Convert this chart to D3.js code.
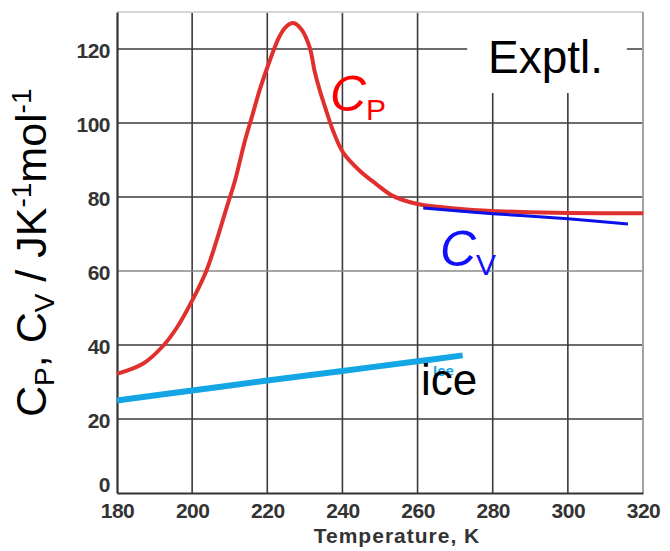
<!DOCTYPE html>
<html>
<head>
<meta charset="utf-8">
<script src="https://cdn.jsdelivr.net/npm/d3@7"></script>
<style>
  body { margin: 0; background: #fff; }
  svg { display: block; }
</style>
</head>
<body>
<div id="chart"></div>
<script>
// data
const xTicks = [180, 200, 220, 240, 260, 280, 300, 320];
const yTicks = [0, 20, 40, 60, 80, 100, 120];

const cpTemp = [180, 187, 192.3, 196, 200, 203.8, 206.5, 209.2, 211.4, 214, 216, 218, 220, 222, 223.3, 225, 226.9, 229.1, 231.3, 232.6, 234, 235.7, 237.5, 240.2, 244.6, 249, 253.4, 260, 270, 280, 290, 300, 320];
const cpVal  = [32.2, 35, 39.8, 44.8, 52, 60.1, 68.2, 77.2, 84.4, 95, 102, 109, 115, 120.5, 123.5, 126, 127, 125.3, 120.4, 114, 108.7, 103.3, 97.9, 92, 87.1, 83.5, 80.3, 78.1, 76.9, 76.2, 75.9, 75.7, 75.6];

const cvTemp = [261.5, 280, 300, 316];
const cvVal  = [77, 75.5, 74.1, 72.7];

const iceTemp = [180, 200, 220, 240, 260, 272];
const iceVal  = [25, 27.7, 30.4, 33, 35.6, 37.2];

const W = 670, H = 551;
const margin = {left: 117, right: 27, top: 12, bottom: 58};
const width = W - margin.left - margin.right;
const height = H - margin.top - margin.bottom;

const svg = d3.select("#chart")
    .append("svg")
    .attr("width", W)
    .attr("height", H)
    .style("font-family", "Arial, 'Liberation Sans', sans-serif");

const g = svg.append("g")
    .attr("transform", "translate(" + margin.left + "," + margin.top + ")");

const x = d3.scaleLinear().domain([180, 320]).range([0, width]);
const y = d3.scaleLinear().domain([0, 130]).range([height, 0]);

// grid
g.append("g")
    .selectAll("line")
    .data(xTicks.slice(1, -1))
    .enter().append("line")
    .attr("x1", d => x(d)).attr("x2", d => x(d))
    .attr("y1", 0).attr("y2", height)
    .attr("stroke", "#3a3a3a")
    .attr("stroke-width", 1.6);

g.append("g")
    .selectAll("line")
    .data(yTicks.slice(1))
    .enter().append("line")
    .attr("x1", 0).attr("x2", width)
    .attr("y1", d => y(d)).attr("y2", d => y(d))
    .attr("stroke", d => d == 60 ? "#8a8a8a" : "#3a3a3a")
    .attr("stroke-width", 1.6);

// frame
g.append("line")
    .attr("x1", 0).attr("x2", width).attr("y1", 0).attr("y2", 0)
    .attr("stroke", "#d6d6d6").attr("stroke-width", 2);
g.append("line")
    .attr("x1", width).attr("x2", width).attr("y1", 0).attr("y2", height)
    .attr("stroke", "#a89f9f").attr("stroke-width", 2);

// axes
const xAxis = g.append("g")
    .attr("transform", "translate(0," + height + ")")
    .call(d3.axisBottom(x).tickValues(xTicks).tickSize(0).tickPadding(8));
const yAxis = g.append("g")
    .call(d3.axisLeft(y).tickValues(yTicks).tickSize(0).tickPadding(7));

[xAxis, yAxis].forEach(a => {
    a.select(".domain").attr("stroke", "#333").attr("stroke-width", 2.2);
    a.selectAll("text")
        .attr("fill", "#333")
        .style("font-size", "21px")
        .style("font-weight", "bold")
        .style("letter-spacing", "-0.5px")
        .style("font-family", "Arial, 'Liberation Sans', sans-serif");
});
xAxis.selectAll("text").attr("dy", "0.8em");
yAxis.selectAll("text").attr("dy", d => d == 0 ? "-0.05em" : "0.4em");

// white box behind "Exptl."
g.append("rect")
    .attr("x", x(273.2)).attr("y", 1)
    .attr("width", x(315.7) - x(273.2)).attr("height", y(108.1) - 1)
    .attr("fill", "#fff");

// curves
const line = d3.line()
    .x(d => x(d[0]))
    .y(d => y(d[1]))
    .curve(d3.curveCatmullRom.alpha(0.5));

g.append("path")
    .attr("d", line(d3.zip(iceTemp, iceVal)))
    .attr("fill", "none")
    .attr("stroke", "#14a6e4")
    .attr("stroke-width", 6);

g.append("path")
    .attr("d", line(d3.zip(cpTemp, cpVal)))
    .attr("fill", "none")
    .attr("stroke", "#e0302e")
    .attr("stroke-width", 4)
    .attr("stroke-linejoin", "round");

g.append("path")
    .attr("d", line(d3.zip(cvTemp, cvVal)))
    .attr("fill", "none")
    .attr("stroke", "#0a10e8")
    .attr("stroke-width", 3);

// labels inside the plot
svg.append("text")
    .attr("x", 488).attr("y", 72.5)
    .style("font-size", "46px")
    .attr("fill", "#000")
    .text("Exptl.");

const cpLab = svg.append("text")
    .attr("x", 330).attr("y", 111)
    .attr("fill", "#ff0000")
    .style("font-size", "50px");
cpLab.append("tspan").style("font-style", "italic").text("C");
cpLab.append("tspan").attr("dy", 9).style("font-size", "30px").text("P");

const cvLab = svg.append("text")
    .attr("x", 440).attr("y", 266)
    .attr("fill", "#1010ff")
    .style("font-size", "50px");
cvLab.append("tspan").style("font-style", "italic").text("C");
cvLab.append("tspan").attr("dy", 9).style("font-size", "30px").text("V");

svg.append("text")
    .attr("x", 433).attr("y", 376)
    .attr("fill", "#1ea7e1")
    .style("font-size", "15px")
    .style("font-weight", "bold")
    .text("Ice");

svg.append("text")
    .attr("x", 421).attr("y", 395)
    .attr("fill", "#000")
    .style("font-size", "44px")
    .text("ice");

// axis titles
svg.append("text")
    .attr("x", 397).attr("y", 543)
    .attr("text-anchor", "middle")
    .attr("fill", "#333")
    .style("font-size", "21px")
    .style("font-weight", "bold")
    .style("letter-spacing", "1px")
    .text("Temperature, K");

const yLab = svg.append("text")
    .attr("transform", "translate(46,417) rotate(-90)")
    .attr("fill", "#000")
    .style("font-size", "43px");
yLab.append("tspan").text("C");
yLab.append("tspan").attr("dy", 8).style("font-size", "28px").text("P");
yLab.append("tspan").attr("dy", -8).text(",  C");
yLab.append("tspan").attr("dy", 8).style("font-size", "28px").text("V");
yLab.append("tspan").attr("dy", -8).text(" / JK");
yLab.append("tspan").attr("dy", -15).style("font-size", "28px").text("-1");
yLab.append("tspan").attr("dy", 15).text("mol");
yLab.append("tspan").attr("dy", -15).style("font-size", "28px").text("-1");
</script>
</body>
</html>
